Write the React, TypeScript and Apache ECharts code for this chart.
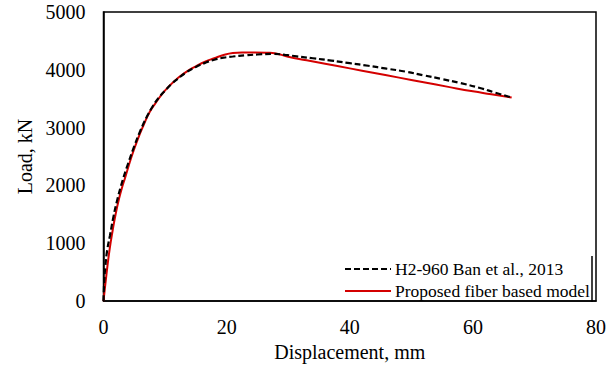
import React, { useEffect, useRef } from "react";
import * as echarts from "echarts";

// Displacement (mm), Load (kN)
const testDisp = [0, 0.1, 0.3, 0.6, 1.06, 1.6, 2.14, 3, 4, 5, 6, 7, 8, 9, 10, 11, 12, 13.5, 15, 16.5, 18, 19.5, 21, 23, 25, 27.5, 29.5, 31.4, 34, 37, 40, 43, 46, 49, 52, 55, 58, 61, 63.5, 66];
const testLoad = [0, 300, 600, 880, 1140, 1450, 1710, 2050, 2380, 2680, 2950, 3180, 3370, 3520, 3640, 3750, 3840, 3960, 4050, 4120, 4175, 4210, 4230, 4250, 4265, 4275, 4260, 4232, 4200, 4160, 4115, 4070, 4020, 3970, 3905, 3840, 3770, 3690, 3610, 3530];

const modelDisp = [0, 0.5, 1, 1.5, 2, 2.5, 3, 3.5, 4.5, 5.5, 6.5, 7.5, 8.5, 9.5, 10.5, 12, 13.5, 15, 16.5, 18, 19.5, 21, 22.5, 24.5, 26.5, 28, 30, 33, 36, 40, 44, 48, 52, 56, 60, 63, 66.3];
const modelLoad = [0, 480, 900, 1230, 1520, 1760, 1960, 2130, 2480, 2780, 3040, 3270, 3430, 3580, 3700, 3850, 3970, 4060, 4140, 4200, 4255, 4290, 4300, 4300, 4295, 4282, 4225, 4165, 4105, 4025, 3945, 3865, 3785, 3705, 3628, 3578, 3520];

const xTicks = { min: 0, max: 80, interval: 20 };
const yTicks = { min: 0, max: 5000, interval: 1000 };

const seriesNames = ["H2-960 Ban et al., 2013", "Proposed fiber based model"];

const FONT = "'Liberation Serif', 'Times New Roman', serif";

export default function App() {
  const ref = useRef<HTMLDivElement>(null);
  useEffect(() => {
    if (!ref.current) return;
    const chart = echarts.init(ref.current, undefined, { renderer: "svg" });
    const zip = (xs: number[], ys: number[]) => xs.map((x, i) => [x, ys[i]]);
    chart.setOption({
      animation: false,
      backgroundColor: "#ffffff",
      grid: {
        left: 103.5,
        right: 19,
        top: 12,
        bottom: 64,
        show: true,
        borderColor: "#000",
        borderWidth: 1.5,
        backgroundColor: "transparent",
      },
      legend: {
        orient: "vertical",
        left: 344,
        top: 260,
        itemWidth: 46,
        itemHeight: 14,
        itemGap: 4,
        padding: 0,
        itemStyle: { opacity: 0 },
        textStyle: { fontFamily: FONT, fontSize: 17.5, color: "#000", padding: [0, 0, 0, -1] },
        data: seriesNames,
      },
      xAxis: {
        type: "value",
        min: xTicks.min,
        max: xTicks.max,
        interval: xTicks.interval,
        name: "Displacement, mm",
        nameLocation: "middle",
        nameGap: 37,
        nameTextStyle: { fontFamily: FONT, fontSize: 20, color: "#000" },
        axisLine: { show: true, onZero: false, lineStyle: { color: "#000", width: 1.5 } },
        axisTick: { show: false },
        splitLine: { show: false },
        axisLabel: { fontFamily: FONT, fontSize: 20, color: "#000", margin: 16, formatter: (v: number) => String(v) },
      },
      yAxis: {
        type: "value",
        min: yTicks.min,
        max: yTicks.max,
        interval: yTicks.interval,
        name: "Load, kN",
        nameLocation: "middle",
        nameGap: 68,
        nameTextStyle: { fontFamily: FONT, fontSize: 20, color: "#000" },
        axisLine: { show: true, onZero: false, lineStyle: { color: "#000", width: 1.5 } },
        axisTick: { show: false },
        splitLine: { show: false },
        axisLabel: { fontFamily: FONT, fontSize: 20, color: "#000", margin: 18, formatter: (v: number) => String(v) },
      },
      graphic: [
        {
          type: "line",
          shape: { x1: 592, y1: 256, x2: 592, y2: 302 },
          style: { stroke: "#000", lineWidth: 1.5 },
          z: 100,
        },
      ],
      series: [
        {
          name: seriesNames[0],
          type: "line",
          data: zip(testDisp, testLoad),
          symbol: "none",
          smooth: 0.5,
          lineStyle: { color: "#000", width: 2.2, type: [6, 3] },
          itemStyle: { color: "#000" },
          z: 3,
        },
        {
          name: seriesNames[1],
          type: "line",
          data: zip(modelDisp, modelLoad),
          symbol: "none",
          smooth: 0.5,
          lineStyle: { color: "#d40000", width: 2 },
          itemStyle: { color: "#d40000" },
          z: 2,
        },
      ],
    });
    return () => chart.dispose();
  }, []);
  return <div ref={ref} style={{ position: "fixed", left: 0, top: 0, width: 615, height: 367 }} />;
}
